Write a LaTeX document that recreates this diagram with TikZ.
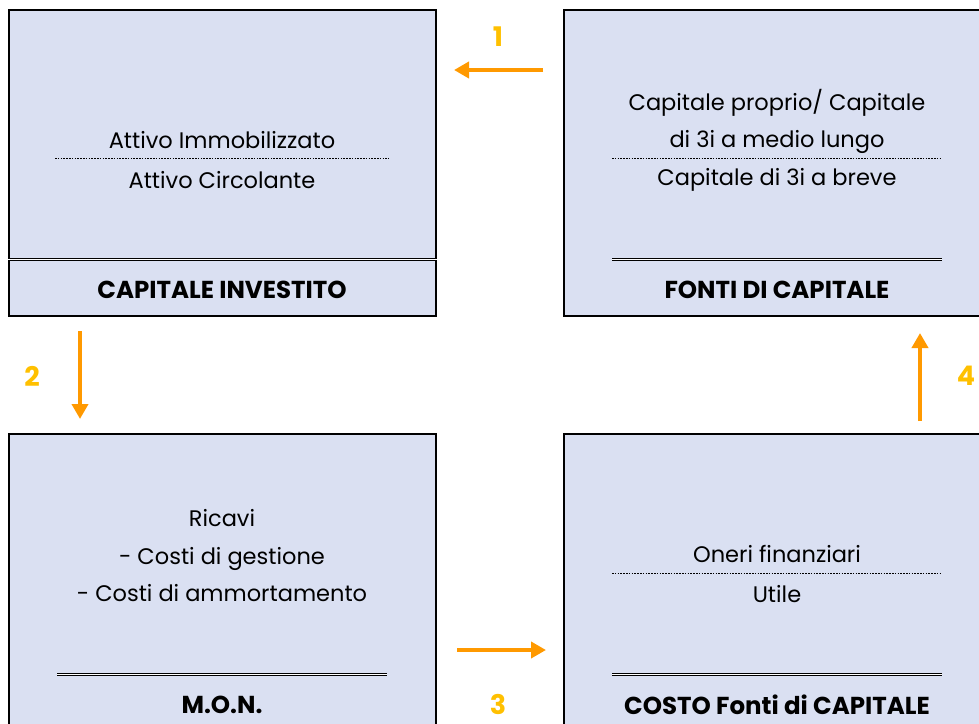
\documentclass[tikz,border=0pt]{standalone}
\usepackage{fontspec}
\setmainfont{Poppins}
\usepackage{tikz}
\usetikzlibrary{arrows.meta,positioning}
\definecolor{boxfill}{HTML}{DAE0F2}
\definecolor{arrorange}{HTML}{FF9900}
\definecolor{numgold}{HTML}{FFC000}
\tikzset{
  panel/.style={draw=black, line width=2pt, fill=boxfill, minimum width=427pt, minimum height=306pt, inner sep=0pt},
  txt/.style={font=\fontsize{22.5}{37.5}\selectfont, inner sep=0pt, align=center},
  title/.style={font=\fontsize{24.5}{28}\selectfont\bfseries, inner sep=0pt},
  flow/.style={draw=arrorange, line width=4pt, -{Triangle[length=15pt,width=16pt]}},
  num/.style={font=\fontsize{27}{30}\selectfont\bfseries, text=numgold, inner sep=0pt},
  dots/.style={line width=1pt, dash pattern=on 1.6pt off 1.2pt},
  dbl/.style={double, double distance=1.2pt, line width=1.3pt}
}
\begin{document}
\begin{tikzpicture}[x=1pt, y=-1pt]
	\clip (0,0) rectangle (979,723);
	% Define nodes
	\node[panel] (ci) at (222.5,163) {};
	\node[panel] (fc) at (777.5,163) {};
	\node[panel] (mon) at (222.5,587) {};
	\node[panel] (cf) at (777.5,587) {};
	\node[txt] (ai) at (222,140) {Attivo Immobilizzato};
	\node[txt] (ac) at (222,180) {Attivo Circolante};
	\node[title] (tci) at (222,290) {CAPITALE INVESTITO};
	\node[txt] (cp) at (777,121.5) {Capitale proprio/ Capitale\\ di 3i a medio lungo};
	\node[txt] (cb) at (777,180) {Capitale di 3i a breve};
	\node[title] (tfc) at (777,290) {FONTI DI CAPITALE};
	\node[txt] (ric) at (222,556) {Ricavi\\ - Costi di gestione\\ - Costi di ammortamento};
	\node[title] (tmon) at (222,705) {M.O.N.};
	\node[txt] (of) at (777,554) {Oneri finanziari};
	\node[txt] (ut) at (777,594) {Utile};
	\node[title] (tcf) at (777,705) {COSTO Fonti di CAPITALE};
	% Separators
	\draw[dots] (55,158) -- (389,158);
	\draw[dots] (612,158) -- (942,158);
	\draw[dots] (612,573) -- (942,573);
	\draw[dbl] (ci.west |- 0,259.5) -- (ci.east |- 0,259.5);
	\draw[dbl] (612,259.5) -- (942,259.5);
	\draw[dbl] (57,674.5) -- (387,674.5);
	\draw[dbl] (612,674.5) -- (942,674.5);
	% Connect the nodes
	\draw[flow, shorten <=20pt, shorten >=17pt] (fc.west |- 0,70) -- (ci.east |- 0,70);
	\draw[flow, shorten <=14pt, shorten >=14pt] (ci.south -| 80,0) -- (mon.north -| 80,0);
	\draw[flow, shorten <=20pt, shorten >=17pt] (mon.east |- 0,650) -- (cf.west |- 0,650);
	\draw[flow, shorten <=12pt, shorten >=16pt] (cf.north -| 920,0) -- (fc.south -| 920,0);
	\node[num] (n1) at (498,37) {1};
	\node[num] (n2) at (32,376) {2};
	\node[num] (n3) at (498,704) {3};
	\node[num] (n4) at (966,376) {4};
\end{tikzpicture}
\end{document}
